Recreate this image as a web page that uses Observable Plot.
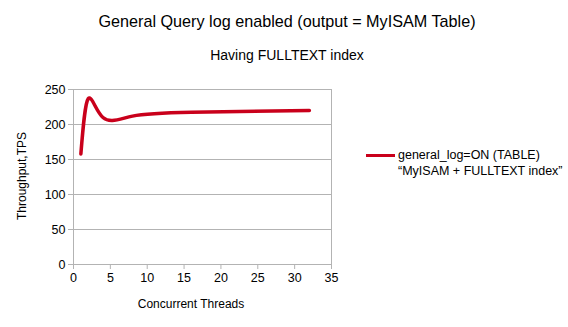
<!DOCTYPE html>
<html><head><meta charset="utf-8">
<script src="https://cdn.jsdelivr.net/npm/d3@7"></script>
<script src="https://cdn.jsdelivr.net/npm/@observablehq/plot@0.6"></script>
<style>
html,body{margin:0;padding:0;background:#fff;}
#wrap{position:relative;width:568px;height:327px;font-family:"Liberation Sans",Arial,sans-serif;color:#000;}
.abs{position:absolute;white-space:nowrap;}
</style></head>
<body><div id="wrap"></div>
<script>
const threads = [1, 2, 4, 8, 16, 32];
const tps = [158, 237, 210, 212, 217.5, 220];
const xTicks = [0, 5, 10, 15, 20, 25, 30, 35];
const yTicks = [0, 50, 100, 150, 200, 250];
const title = "General Query log enabled (output = MyISAM Table)";
const subtitle = "Having FULLTEXT index";
const xLabel = "Concurrent Threads";
const yLabel = "Throughput,TPS";
const seriesName = ["general_log=ON (TABLE)", "\u201CMyISAM + FULLTEXT index\u201D"];
const lineColor = "#c9001b";

const data = threads.map((t, i) => ({t, v: tps[i]}));

const chart = Plot.plot({
  width: 568, height: 327,
  marginLeft: 73, marginRight: 237, marginTop: 89, marginBottom: 63,
  style: {fontFamily: "Liberation Sans, Arial, sans-serif", fontSize: "12px", background: "#fff", color: "#000"},
  x: {domain: [0, 35], ticks: xTicks, label: null},
  y: {domain: [0, 250], ticks: yTicks, label: null},
  marks: [
    Plot.gridY(yTicks, {stroke: "#b3b3b3", strokeOpacity: 1}),
    Plot.ruleX([0, 35], {stroke: "#b3b3b3"}),
    Plot.axisX({ticks: xTicks, stroke: "#b3b3b3", tickSize: 5, tickPadding: 4, fill: "#000", label: null, fontSize: 12.5}),
    Plot.axisY({ticks: yTicks, stroke: "#b3b3b3", tickSize: 5, tickPadding: 3, fill: "#000", label: null, fontSize: 12.5}),
    Plot.ruleY([0], {stroke: "#b3b3b3"}),
    Plot.line(data, {x: "t", y: "v", stroke: lineColor, strokeWidth: 3.5, curve: "natural"})
  ]
});

const wrap = document.getElementById("wrap");
wrap.appendChild(chart);

function addText(txt, css) {
  const d = document.createElement("div");
  d.className = "abs";
  d.textContent = txt;
  Object.assign(d.style, css);
  wrap.appendChild(d);
  return d;
}
addText(title, {left: "0", width: "574px", textAlign: "center", top: "12px", fontSize: "16.2px"});
addText(subtitle, {left: "0", width: "574px", textAlign: "center", top: "47px", fontSize: "14px"});
addText(xLabel, {left: "91px", width: "200px", textAlign: "center", top: "297px", fontSize: "12px"});
addText(yLabel, {left: "22px", top: "176px", fontSize: "12px", transform: "translate(-50%,-50%) rotate(-90deg)", transformOrigin: "center"});
// legend
const sw = document.createElement("div");
sw.className = "abs";
Object.assign(sw.style, {left: "366px", top: "154px", width: "29px", height: "3px", background: lineColor});
wrap.appendChild(sw);
addText(seriesName[0], {left: "398px", top: "148px", fontSize: "12.5px"});
addText(seriesName[1], {left: "398px", top: "164px", fontSize: "12.5px"});
</script></body></html>
